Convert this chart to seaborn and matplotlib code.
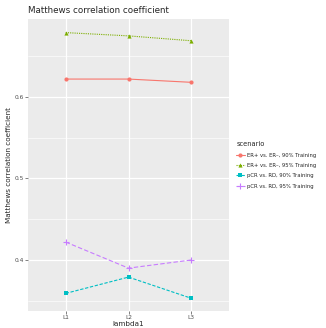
import matplotlib
matplotlib.use("Agg")
import matplotlib.pyplot as plt
import numpy as np
import pandas as pd
import seaborn as sns

# ─── Data ─────────────────────────────────
lambdas = ["L1", "L2", "L3"]
scenarios = [
    "ER+ vs. ER\u2013, 90% Training",
    "ER+ vs. ER\u2013, 95% Training",
    "pCR vs. RD, 90% Training",
    "pCR vs. RD, 95% Training",
]
er_90 = [0.622, 0.622, 0.618]
er_95 = [0.679, 0.675, 0.669]
pcr_90 = [0.359, 0.379, 0.353]
pcr_95 = [0.422, 0.390, 0.400]

df = pd.DataFrame({
    "lambda1": lambdas * 4,
    "scenario": np.repeat(scenarios, 3),
    "mcc": er_90 + er_95 + pcr_90 + pcr_95,
})
df["x"] = df["lambda1"].map({l: i for i, l in enumerate(lambdas)})

colors = ["#F8766D", "#7CAE00", "#00BFC4", "#C77CFF"]
markers = ["o", "^", "s", "P"]
dashes = ["", (1, 1), (3, 1.5), (4, 2)]

sns.set_theme(style="darkgrid", rc={
    "axes.facecolor": "#EBEBEB",
    "grid.color": "white",
    "axes.edgecolor": "#EBEBEB",
})
plt.rcParams["font.family"] = ["DejaVu Sans"]

fig = plt.figure(figsize=(3.26, 3.28), dpi=100)
ax = fig.add_axes([28 / 326, 17 / 328, 201 / 326, 292 / 328])

sns.lineplot(
    data=df, x="x", y="mcc", hue="scenario", style="scenario",
    palette=colors, markers=markers, dashes=dashes,
    linewidth=0.8, markersize=3, markeredgewidth=0, ax=ax,
)


def thin_plus(line):
    # ggplot shape 3: a thin line-art plus
    if line.get_marker() == "P":
        line.set_marker("+")
        line.set_markeredgecolor(line.get_color())
        line.set_markeredgewidth(0.8)
        line.set_markersize(4)


for ln in ax.lines:
    thin_plus(ln)

ax.set_xlim(-0.6, 2.6)
ax.set_ylim(0.3374, 0.6957)
ax.set_xticks(range(3))
ax.set_xticklabels(lambdas)
ax.set_yticks([0.4, 0.5, 0.6])
ax.set_yticks([0.35, 0.45, 0.55, 0.65], minor=True)
ax.grid(which="major", color="white", linewidth=0.9)
ax.grid(which="minor", color="white", linewidth=0.45)
ax.tick_params(axis="both", which="major", labelsize=4.2, colors="#4D4D4D",
               length=2, width=0.5, pad=1, left=True, bottom=True)
ax.tick_params(which="minor", length=0)
for s in ax.spines.values():
    s.set_visible(False)

ax.set_xlabel("lambda1", fontsize=5.2, labelpad=0.5)
ax.set_ylabel("Matthews correlation coefficient", fontsize=5.2, labelpad=2)
ax.set_title("Matthews correlation coefficient", fontsize=6.3, loc="left", pad=4)

handles, labels = ax.get_legend_handles_labels()
for h in handles:
    thin_plus(h)
ax.legend(handles, labels, title="scenario", loc="center left",
          bbox_to_anchor=(1.02, 0.5), frameon=False, fontsize=3.8,
          title_fontsize=4.8, handlelength=1.6, handletextpad=0.5,
          labelspacing=1.0, borderaxespad=0.2, alignment="left")

fig.savefig("out.png", dpi=100)
